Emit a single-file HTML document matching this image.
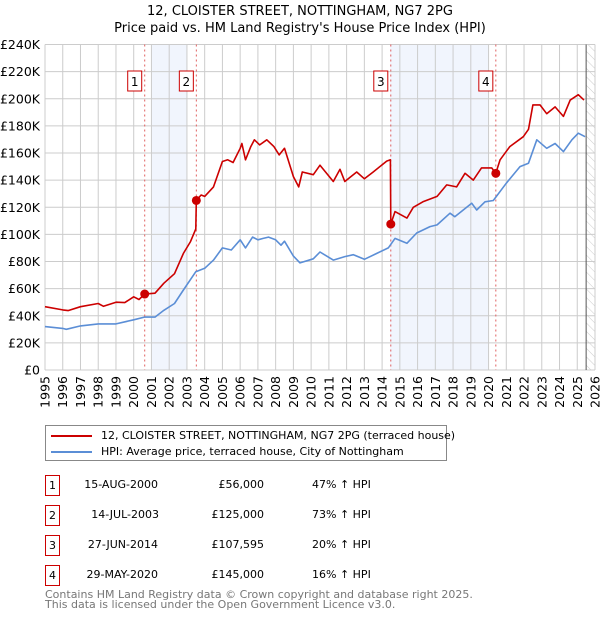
<!DOCTYPE html>
<html><head><meta charset="utf-8"><style>
body{margin:0;background:#fff;width:600px;height:620px;overflow:hidden;font-family:"Liberation Sans","DejaVu Sans",sans-serif;}
svg text{font-family:"DejaVu Sans","Liberation Sans",sans-serif;}
.t div{white-space:nowrap;}
</style></head><body>
<svg id="c" width="600" height="620" xmlns="http://www.w3.org/2000/svg"></svg>
<script>
const yTicks=[0,20,40,60,80,100,120,140,160,180,200,220,240];
const years=[1995,1996,1997,1998,1999,2000,2001,2002,2003,2004,2005,2006,2007,2008,2009,2010,2011,2012,2013,2014,2015,2016,2017,2018,2019,2020,2021,2022,2023,2024,2025,2026];
const hpiX=[1995,1996,1996.2,1997,1998,1999,2000,2000.6,2001.2,2001.7,2002.3,2002.8,2003.5,2004,2004.5,2005,2005.5,2006,2006.3,2006.7,2007,2007.3,2007.6,2008,2008.3,2008.5,2009,2009.37,2010.12,2010.5,2011.25,2011.9,2012.38,2013.0,2013.7,2014.35,2014.73,2015.4,2015.95,2016.7,2017.1,2017.83,2018.1,2019.05,2019.33,2019.8,2020.27,2021.0,2021.77,2022.25,2022.72,2023.28,2023.75,2024.22,2024.7,2025.06,2025.44];
const hpiY=[32,30.7,30,32.5,34,34,37,39,39,44,49,59,72.5,75,81,90,88.5,96,90,98,96,97,98,96,92,95,84,79,82,87,81,83.6,85,81.6,86,90,97,93.4,101,105.7,107,115.6,113,123,118,124,125,137.7,150,152.5,169.7,163.5,167,161,169.7,174.6,172];
const ppX=[1995,1996,1996.3,1997,1998,1998.3,1999,1999.5,2000,2000.3,2000.62,2001.2,2001.7,2002.3,2002.8,2003.2,2003.5,2003.53,2003.8,2004,2004.5,2005,2005.3,2005.6,2006,2006.1,2006.3,2006.6,2006.8,2007.1,2007.5,2007.9,2008.2,2008.5,2009,2009.3,2009.5,2010.12,2010.5,2011.25,2011.63,2011.9,2012.57,2013.0,2013.5,2014.26,2014.47,2014.49,2014.73,2015.4,2015.76,2016.3,2017.1,2017.64,2018.2,2018.67,2019.14,2019.6,2020.18,2020.41,2020.65,2021.2,2021.96,2022.25,2022.5,2022.9,2023.28,2023.75,2024.22,2024.6,2025.06,2025.38];
const ppY=[46.7,44.3,43.8,46.7,49,47,50,49.7,54,52,56,56.6,64,71,86,94.7,104,125,129,128,135,153.7,155,153,163.5,167,155,164.7,169.7,166,169.7,164.7,158.6,163.5,142.6,135,146,144,151,139,148,139,146,141,146,154,155,107.6,116.8,112,120,124,128,136.5,135,145,140,149,149,145,155,164.7,172,177.5,195.5,195.5,189,194,187,199,203,199];
const saleDates=[2000.62,2003.53,2014.49,2020.41];
const salePrices=[56,125,107.595,145];
const saleLabels=["1","2","3","4"];
const shadeRanges=[[2001.0,2003.0],[2014.45,2020.0]];

const L=45,R=595,T=44.5,B=370,Y0=1995,Y1=2026,VMAX=240;
const X=y=>L+(y-Y0)/(Y1-Y0)*(R-L);
const Y=v=>B-v/VMAX*(B-T);
const svg=document.getElementById('c');
const NS='http://www.w3.org/2000/svg';
function mk(t,a,p){const e=document.createElementNS(NS,t);for(const k in a)e.setAttribute(k,a[k]);(p||svg).appendChild(e);return e;}

let e=mk('text',{x:300,y:15,'text-anchor':'middle','font-size':13,fill:'#000'});e.textContent='12, CLOISTER STREET, NOTTINGHAM, NG7 2PG';


e=mk('text',{x:300,y:32,'text-anchor':'middle','font-size':13,fill:'#000'});e.textContent="Price paid vs. HM Land Registry's House Price Index (HPI)";



shadeRanges.forEach(r=>{const s=mk('rect',{x:X(r[0]),y:T,width:X(r[1])-X(r[0]),height:B-T,fill:'#eef3fc',opacity:0.8});

});

const defs=mk('defs',{});
const pat=mk('pattern',{id:'h',width:6,height:6,patternUnits:'userSpaceOnUse',patternTransform:'rotate(-45)'},defs);
mk('line',{x1:0,y1:0,x2:0,y2:6,stroke:'#ccc','stroke-width':1},pat);
e=mk('rect',{x:X(2025.5),y:T,width:R-X(2025.5),height:B-T,fill:'url(#h)'});



yTicks.forEach(v=>{const g=mk('line',{x1:L,x2:R,y1:Y(v),y2:Y(v),stroke:'#cccccc','stroke-width':1});


const t=mk('text',{x:L-5,y:Y(v)+4.5,'text-anchor':'end','font-size':12.5,fill:'#000'});t.textContent='£'+(v?v+'K':'0');

});
years.forEach(y=>{const g=mk('line',{x1:X(y),x2:X(y),y1:T,y2:B,stroke:'#cccccc','stroke-width':1});


const t=mk('text',{x:0,y:0,'text-anchor':'end','font-size':12.5,fill:'#000',transform:`translate(${X(y)+4.5},${B+6}) rotate(-90)`});t.textContent=y;

});
e=mk('line',{x1:X(2025.5),x2:X(2025.5),y1:T,y2:B,stroke:'#555','stroke-width':1});



saleDates.forEach((d,i)=>{const l=mk('line',{x1:X(d),x2:X(d),y1:T,y2:B,stroke:'#e06060','stroke-width':1,'stroke-dasharray':'2,3'});

});

function path(xs,ys,col,name){let d='';xs.forEach((x,i)=>{d+=(i?'L':'M')+X(x).toFixed(1)+','+Y(ys[i]).toFixed(1);});
const p=mk('path',{d:d,fill:'none',stroke:col,'stroke-width':1.6,'stroke-linejoin':'round'});

}
path(hpiX,hpiY,'#5b8ed6','hpi-line');
path(ppX,ppY,'#cc0000','price-paid-line');

saleDates.forEach((d,i)=>{const c=mk('circle',{cx:X(d),cy:Y(salePrices[i]),r:4.5,fill:'#cc0000'});


const bx=mk('rect',{x:X(d)-17,y:71,width:14,height:20,fill:'#fff',stroke:'#cc0000','stroke-width':1});


const t=mk('text',{x:X(d)-10,y:86,'text-anchor':'middle','font-size':12,fill:'#000'});t.textContent=saleLabels[i];

});
</script>
<div style="position:absolute;left:45px;top:425px;width:400px;height:34px;border:1px solid #888;font-size:11px;font-family:'DejaVu Sans','Liberation Sans',sans-serif;">
 <div style="position:absolute;left:5px;top:3px;white-space:nowrap;"><span style="display:inline-block;width:41px;height:2px;background:#cc0000;vertical-align:middle;margin-right:9px;"></span>12, CLOISTER STREET, NOTTINGHAM, NG7 2PG (terraced house)</div>
 <div style="position:absolute;left:5px;top:19px;white-space:nowrap;"><span style="display:inline-block;width:41px;height:2px;background:#5b8ed6;vertical-align:middle;margin-right:9px;"></span>HPI: Average price, terraced house, City of Nottingham</div>
</div>
<div class="t" style="position:absolute;left:0;top:0;font-size:11px;font-family:'DejaVu Sans','Liberation Sans',sans-serif;">
 <div>
  <div style="position:absolute;left:45px;top:475px;width:13px;height:19px;border:1px solid #cc0000;text-align:center;line-height:19px;">1</div>
  <div style="position:absolute;left:40px;width:118px;top:478px;text-align:right;">15-AUG-2000</div>
  <div style="position:absolute;left:150px;width:114px;top:478px;text-align:right;">£56,000</div>
  <div style="position:absolute;left:312px;top:478px;">47% ↑ HPI</div></div>
 <div>
  <div style="position:absolute;left:45px;top:505px;width:13px;height:19px;border:1px solid #cc0000;text-align:center;line-height:19px;">2</div>
  <div style="position:absolute;left:40px;width:119px;top:508px;text-align:right;">14-JUL-2003</div>
  <div style="position:absolute;left:150px;width:114px;top:508px;text-align:right;">£125,000</div>
  <div style="position:absolute;left:312px;top:508px;">73% ↑ HPI</div></div>
 <div>
  <div style="position:absolute;left:45px;top:535px;width:13px;height:19px;border:1px solid #cc0000;text-align:center;line-height:19px;">3</div>
  <div style="position:absolute;left:40px;width:118px;top:538px;text-align:right;">27-JUN-2014</div>
  <div style="position:absolute;left:150px;width:114px;top:538px;text-align:right;">£107,595</div>
  <div style="position:absolute;left:312px;top:538px;">20% ↑ HPI</div></div>
 <div>
  <div style="position:absolute;left:45px;top:565px;width:13px;height:19px;border:1px solid #cc0000;text-align:center;line-height:19px;">4</div>
  <div style="position:absolute;left:40px;width:118px;top:568px;text-align:right;">29-MAY-2020</div>
  <div style="position:absolute;left:150px;width:114px;top:568px;text-align:right;">£145,000</div>
  <div style="position:absolute;left:312px;top:568px;">16% ↑ HPI</div></div>
</div>
<div style="position:absolute;left:45px;top:590px;font-size:11px;line-height:10px;color:#777;font-family:'DejaVu Sans','Liberation Sans',sans-serif;white-space:nowrap;">Contains HM Land Registry data © Crown copyright and database right 2025.<br>This data is licensed under the Open Government Licence v3.0.</div>
</body></html>
